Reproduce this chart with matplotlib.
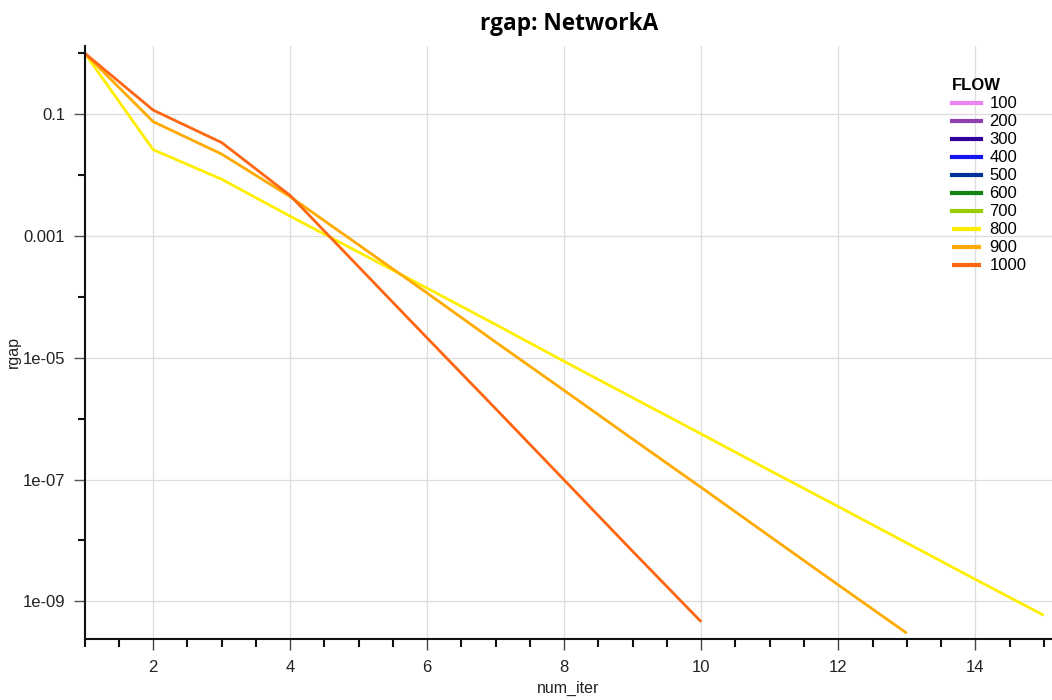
import matplotlib
matplotlib.use("Agg")
import matplotlib.pyplot as plt
from matplotlib.ticker import FixedLocator, MultipleLocator, NullFormatter, FuncFormatter

plt.rcParams['font.family'] = ['Liberation Sans', 'DejaVu Sans']

flows = [100, 200, 300, 400, 500, 600, 700, 800, 900, 1000]
colors = ['#EE82EE', '#8E3FB0', '#34009A', '#1414F0', '#003399',
          '#138313', '#99CC00', '#FFEE00', '#FFAA00', '#FF6611']

iter_800 = list(range(1, 16))
rgap_800 = [1.0, 0.026, 0.0085, 0.0021, 5.4e-4, 1.38e-4, 3.5e-5, 8.7e-6,
            2.2e-6, 5.6e-7, 1.41e-7, 3.6e-8, 9.1e-9, 2.3e-9, 5.9e-10]
iter_900 = list(range(1, 14))
rgap_900 = [1.0, 0.075, 0.022, 0.0044, 7.1e-4, 1.15e-4, 1.8e-5, 2.9e-6,
            4.6e-7, 7.4e-8, 1.17e-8, 1.86e-9, 3.0e-10]
iter_1000 = list(range(1, 11))
rgap_1000 = [1.0, 0.116, 0.034, 0.0046, 3.1e-4, 2.1e-5, 1.45e-6, 9.8e-8,
             6.6e-9, 4.6e-10]

series = {800: (iter_800, rgap_800), 900: (iter_900, rgap_900),
          1000: (iter_1000, rgap_1000)}

fig = plt.figure(figsize=(10.52, 7.0), dpi=100)
ax = fig.add_axes([0.0805, 0.087, 0.9195, 0.847])

for f, c in zip(flows, colors):
    if f in series:
        xs, ys = series[f]
        ax.plot(xs, ys, color=c, lw=2.0, label=str(f), solid_capstyle='butt')
    else:
        ax.plot([], [], color=c, lw=2.0, label=str(f))

ax.set_yscale('log')
ax.set_xlim(1, 15.12)
ax.set_ylim(2.4e-10, 1.3)

ax.xaxis.set_major_locator(FixedLocator([2, 4, 6, 8, 10, 12, 14]))
ax.xaxis.set_minor_locator(MultipleLocator(0.5))
major_y = [1e-9, 1e-7, 1e-5, 1e-3, 1e-1]
minor_y = [1e-10, 1e-8, 1e-6, 1e-4, 1e-2, 1.0]
ax.yaxis.set_major_locator(FixedLocator(major_y))
ax.yaxis.set_minor_locator(FixedLocator(minor_y))
ax.yaxis.set_minor_formatter(NullFormatter())
lab = {1e-9: '1e-09', 1e-7: '1e-07', 1e-5: '1e-05', 1e-3: '0.001', 1e-1: '0.1'}
ax.yaxis.set_major_formatter(FuncFormatter(lambda v, p: min(lab.items(), key=lambda kv: abs(kv[0] / v - 1))[1]))

ax.tick_params(axis='both', which='major', direction='out', length=8, width=1,
               color='#444444', labelsize=12, labelcolor='#222222')
ax.tick_params(axis='x', which='minor', direction='out', length=6, width=1.5, color='#111111')
ax.tick_params(axis='y', which='minor', direction='out', length=5, width=1.5, color='#111111')
ax.tick_params(axis='y', which='major', length=8, color='#555555', pad=6)
ax.tick_params(axis='x', which='major', pad=7)

ax.grid(True, which='major', color='#DDDDDD', lw=0.9)
ax.set_axisbelow(True)
for s in ['top', 'right']:
    ax.spines[s].set_visible(False)
for s in ['left', 'bottom']:
    ax.spines[s].set_linewidth(1.5)
    ax.spines[s].set_color('#111111')

ax.set_xlabel('num_iter', fontsize=11.5, color='#222222', labelpad=4)
ax.set_ylabel('rgap', fontsize=11.5, color='#222222')
ax.yaxis.set_label_coords(-0.0655, 0.484)
fig.text(0.541, 0.966, 'rgap: NetworkA', ha='center', va='center',
         fontsize=16.3, fontweight='bold', family=['Open Sans', 'DejaVu Sans'])

leg = ax.legend(title='FLOW', loc='upper left', bbox_to_anchor=(0.8895, 0.957),
                frameon=False, fontsize=12, handlelength=1.75, handletextpad=0.5,
                labelspacing=0.18, borderaxespad=0)
leg.get_title().set_fontweight('bold')
leg.get_title().set_fontsize(12)
leg._legend_box.align = 'left'
for line in leg.get_lines():
    line.set_linewidth(3)

fig.savefig('out.png', dpi=100)
